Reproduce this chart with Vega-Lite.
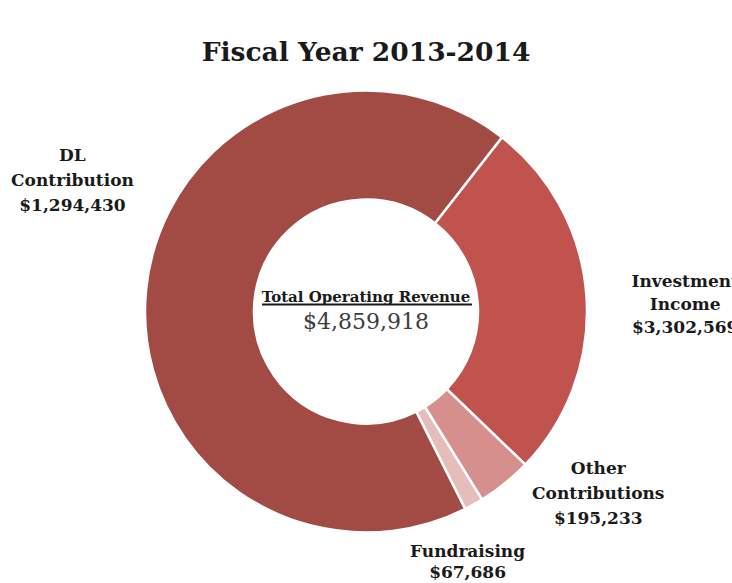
{
  "$schema": "https://vega.github.io/schema/vega-lite/v6.json",
  "width": 732,
  "height": 543,
  "autosize": "none",
  "padding": {"left": 0, "top": 40, "right": 0, "bottom": 0},
  "background": "white",
  "view": {"stroke": null},
  "title": {
    "text": "Fiscal Year 2013-2014",
    "font": "DejaVu Serif",
    "fontSize": 26.5,
    "fontWeight": "bold",
    "color": "#1a1a1a",
    "anchor": "middle",
    "baseline": "alphabetic",
    "offset": 0,
    "dy": 47
  },
  "data": {
    "values": [
      {"slice": "DL Contribution", "value": 1294430, "rank": 1, "label": "Investment\nIncome\n$3,302,569"},
      {"slice": "Other Contributions", "value": 195233, "rank": 2, "label": "Other\nContributions\n$195,233"},
      {"slice": "Fundraising", "value": 67686, "rank": 3, "label": "Fundraising\n$67,686"},
      {"slice": "Investment Income", "value": 3302569, "rank": 4, "label": "DL\nContribution\n$1,294,430"}
    ]
  },
  "encoding": {
    "theta": {"field": "value", "type": "quantitative", "stack": true, "scale": {"range": [0.663, 6.946]}},
    "order": {"field": "rank", "type": "quantitative"}
  },
  "layer": [
    {
      "mark": {"type": "arc", "outerRadius": 221, "innerRadius": 112, "stroke": "#ffffff", "strokeWidth": 2.5},
      "encoding": {
        "color": {
          "field": "slice",
          "type": "nominal",
          "scale": {
            "domain": ["DL Contribution", "Other Contributions", "Fundraising", "Investment Income"],
            "range": ["#C0534E", "#D68F8C", "#E5BDBB", "#A24A44"]
          },
          "legend": null
        }
      }
    },
    {
      "mark": {"type": "text", "radius": 320, "dx": 0, "dy": -7, "font": "DejaVu Serif", "fontWeight": "bold", "fontSize": 17, "lineHeight": 23, "lineBreak": "\n", "align": "center", "baseline": "middle", "color": "#1a1a1a"},
      "encoding": {"text": {"condition": {"test": "datum.rank === 1", "field": "label"}, "value": ""}}
    },
    {
      "mark": {"type": "text", "radius": 295, "dx": 47, "dy": -72, "font": "DejaVu Serif", "fontWeight": "bold", "fontSize": 17, "lineHeight": 25, "lineBreak": "\n", "align": "center", "baseline": "middle", "color": "#1a1a1a"},
      "encoding": {"text": {"condition": {"test": "datum.rank === 2", "field": "label"}, "value": ""}}
    },
    {
      "mark": {"type": "text", "radius": 270, "dx": -30, "dy": 5, "font": "DejaVu Serif", "fontWeight": "bold", "fontSize": 17, "lineHeight": 21, "lineBreak": "\n", "align": "center", "baseline": "middle", "color": "#1a1a1a"},
      "encoding": {"text": {"condition": {"test": "datum.rank === 3", "field": "label"}, "value": ""}}
    },
    {
      "mark": {"type": "text", "radius": 300, "dx": 5, "dy": -126, "font": "DejaVu Serif", "fontWeight": "bold", "fontSize": 17, "lineHeight": 25, "lineBreak": "\n", "align": "center", "baseline": "middle", "color": "#1a1a1a"},
      "encoding": {"text": {"condition": {"test": "datum.rank === 4", "field": "label"}, "value": ""}}
    },
    {
      "data": {"values": [{"heading": "Total Operating Revenue", "total": "$4,859,918"}]},
      "mark": {"type": "text", "dy": -15, "font": "DejaVu Serif", "fontWeight": "bold", "fontSize": 15, "align": "center", "baseline": "middle", "color": "#1a1a1a"},
      "encoding": {"text": {"field": "heading"}, "theta": null, "order": null}
    },
    {
      "data": {"values": [{"heading": "Total Operating Revenue", "total": "$4,859,918"}]},
      "mark": {"type": "rule", "x": {"expr": "width/2-104"}, "x2": {"expr": "width/2+106"}, "strokeWidth": 1.8, "color": "#1a1a1a"},
      "encoding": {"y": {"value": {"expr": "height/2-7"}}, "theta": null, "order": null}
    },
    {
      "data": {"values": [{"heading": "Total Operating Revenue", "total": "$4,859,918"}]},
      "mark": {"type": "text", "dy": 10, "font": "DejaVu Serif", "fontSize": 22, "align": "center", "baseline": "middle", "color": "#3d3d3d"},
      "encoding": {"text": {"field": "total"}, "theta": null, "order": null}
    }
  ]
}
